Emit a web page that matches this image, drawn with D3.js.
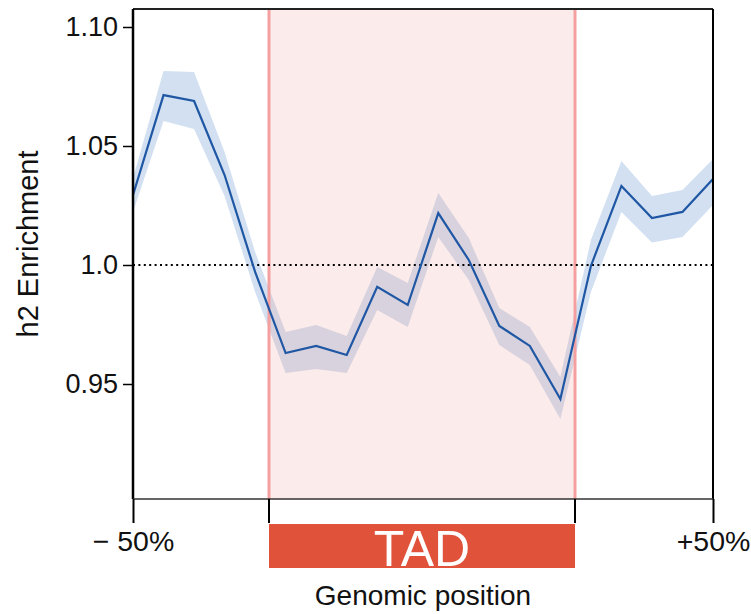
<!DOCTYPE html>
<html>
<head>
<meta charset="utf-8">
<script src="https://cdn.jsdelivr.net/npm/d3@7"></script>
<style>
  html, body { margin: 0; padding: 0; background: #fff; }
  svg { display: block; font-family: "Liberation Sans", Arial, sans-serif; }
</style>
</head>
<body>
<svg id="chart" width="751" height="614"></svg>
<script>
// Bins along the genomic window (0 = -50% flank edge, 19 = +50% flank edge)
const bins = d3.range(20);
// Mean h2 enrichment per bin
const enrichment = [1.0294, 1.0714, 1.0689, 1.0378, 0.9971, 0.9630, 0.9660, 0.9622, 0.9908, 0.9832,
                    1.0218, 1.0021, 0.9744, 0.9660, 0.9437, 0.9996, 1.0332, 1.0197, 1.0223, 1.0361];
// Confidence band, upper and lower bounds
const upper = [1.0366, 1.0815, 1.0811, 1.0475, 1.0055, 0.9718, 0.9748, 0.9702, 0.9992, 0.9924,
               1.0303, 1.0113, 0.9819, 0.9739, 0.9529, 1.0105, 1.0437, 1.0290, 1.0315, 1.0445];
const lower = [1.0223, 1.0605, 1.0571, 1.0290, 0.9887, 0.9546, 0.9563, 0.9546, 0.9811, 0.9739,
               1.0118, 0.9937, 0.9664, 0.9580, 0.9353, 0.9887, 1.0223, 1.0095, 1.0118, 1.0252];
// TAD boundaries in bin units
const tadBounds = [4.455, 14.48];
// Axis ticks
const yTicks = [0.95, 1.0, 1.05, 1.10];
const yTickLabels = ["0.95", "1.0", "1.05", "1.10"];
const xTicks = [0, 19];
const xTickLabels = ["\u2212 50%", "+50%"];

const svg = d3.select("#chart");
const plotLeft = 133, plotRight = 713, plotTop = 9, plotBottom = 499;

const x = d3.scaleLinear().domain([0, 19]).range([plotLeft, plotRight]);
const y = d3.scaleLinear().domain([0.90168, 1.10756]).range([plotBottom, plotTop]);

const data = bins.map((b, i) => ({ b, v: enrichment[i], hi: upper[i], lo: lower[i] }));

// confidence band
svg.append("path")
  .datum(data)
  .attr("d", d3.area().x(d => x(d.b)).y0(d => y(d.lo)).y1(d => y(d.hi)))
  .attr("fill", "rgb(160,190,225)")
  .attr("fill-opacity", 0.48);

// TAD shading on top of the band
svg.append("rect")
  .attr("x", x(tadBounds[0]))
  .attr("y", plotTop)
  .attr("width", x(tadBounds[1]) - x(tadBounds[0]))
  .attr("height", plotBottom - plotTop)
  .attr("fill", "#eb9b98")
  .attr("fill-opacity", 0.2);

svg.selectAll("line.tad-edge")
  .data(tadBounds)
  .join("line")
  .attr("class", "tad-edge")
  .attr("x1", d => x(d)).attr("x2", d => x(d))
  .attr("y1", plotTop).attr("y2", plotBottom)
  .attr("stroke", "#f4a0a0")
  .attr("stroke-width", 3);

// reference line at enrichment = 1
svg.append("line")
  .attr("x1", plotLeft).attr("x2", plotRight)
  .attr("y1", y(1.0)).attr("y2", y(1.0))
  .attr("stroke", "#000")
  .attr("stroke-width", 2)
  .attr("stroke-dasharray", "2 3.4");

// mean line
svg.append("path")
  .datum(data)
  .attr("d", d3.line().x(d => x(d.b)).y(d => y(d.v)))
  .attr("fill", "none")
  .attr("stroke", "#1f57a4")
  .attr("stroke-width", 2.2)
  .attr("stroke-linejoin", "miter");

// frame: top and right edges
svg.append("line").attr("x1", plotLeft).attr("x2", plotRight).attr("y1", plotTop).attr("y2", plotTop)
  .attr("stroke", "#222").attr("stroke-width", 2);
svg.append("line").attr("x1", plotRight).attr("x2", plotRight).attr("y1", plotTop).attr("y2", plotBottom)
  .attr("stroke", "#000").attr("stroke-width", 2);

// y axis
const yAxis = d3.axisLeft(y)
  .tickValues(yTicks)
  .tickFormat((d, i) => yTickLabels[i])
  .tickSize(10)
  .tickPadding(5);
const gy = svg.append("g").attr("transform", `translate(${plotLeft},0)`).call(yAxis);
gy.select(".domain").attr("d", `M0,${plotTop}V${plotBottom}`).attr("stroke", "#000").attr("stroke-width", 2.5);
gy.selectAll(".tick line").attr("stroke", "#000").attr("stroke-width", 1.5);
gy.selectAll(".tick text").attr("font-size", 27).attr("fill", "#111")
  .attr("font-family", "Liberation Sans, Arial, sans-serif");

// x axis
const xAxis = d3.axisBottom(x)
  .tickValues(xTicks)
  .tickFormat((d, i) => xTickLabels[i])
  .tickSize(24)
  .tickPadding(8);
const gx = svg.append("g").attr("transform", `translate(0,${plotBottom})`).call(xAxis);
gx.select(".domain").attr("d", `M${plotLeft},0H${plotRight}`).attr("stroke", "#333").attr("stroke-width", 1.5);
gx.selectAll(".tick line").attr("stroke", "#000").attr("stroke-width", 2);
gx.selectAll(".tick text").attr("font-size", 28.5).attr("fill", "#111")
  .attr("font-family", "Liberation Sans, Arial, sans-serif");

// extra ticks at the TAD edges
gx.selectAll("line.tad-tick")
  .data(tadBounds)
  .join("line")
  .attr("class", "tad-tick")
  .attr("x1", d => x(d)).attr("x2", d => x(d))
  .attr("y1", 0).attr("y2", 24)
  .attr("stroke", "#000").attr("stroke-width", 2);

// TAD bar
svg.append("rect")
  .attr("x", x(tadBounds[0]))
  .attr("y", 524)
  .attr("width", x(tadBounds[1]) - x(tadBounds[0]))
  .attr("height", 44)
  .attr("fill", "#e0533a");
svg.append("text")
  .attr("x", (x(tadBounds[0]) + x(tadBounds[1])) / 2)
  .attr("y", 566)
  .attr("text-anchor", "middle")
  .attr("font-size", 50)
  .attr("fill", "#fff")
  .text("TAD");

// axis titles
svg.append("text")
  .attr("x", 423).attr("y", 605)
  .attr("text-anchor", "middle")
  .attr("font-size", 28)
  .attr("fill", "#111")
  .text("Genomic position");

svg.append("text")
  .attr("transform", "translate(38,244) rotate(-90)")
  .attr("text-anchor", "middle")
  .attr("font-size", 29)
  .attr("fill", "#111")
  .text("h2 Enrichment");
</script>
</body>
</html>
